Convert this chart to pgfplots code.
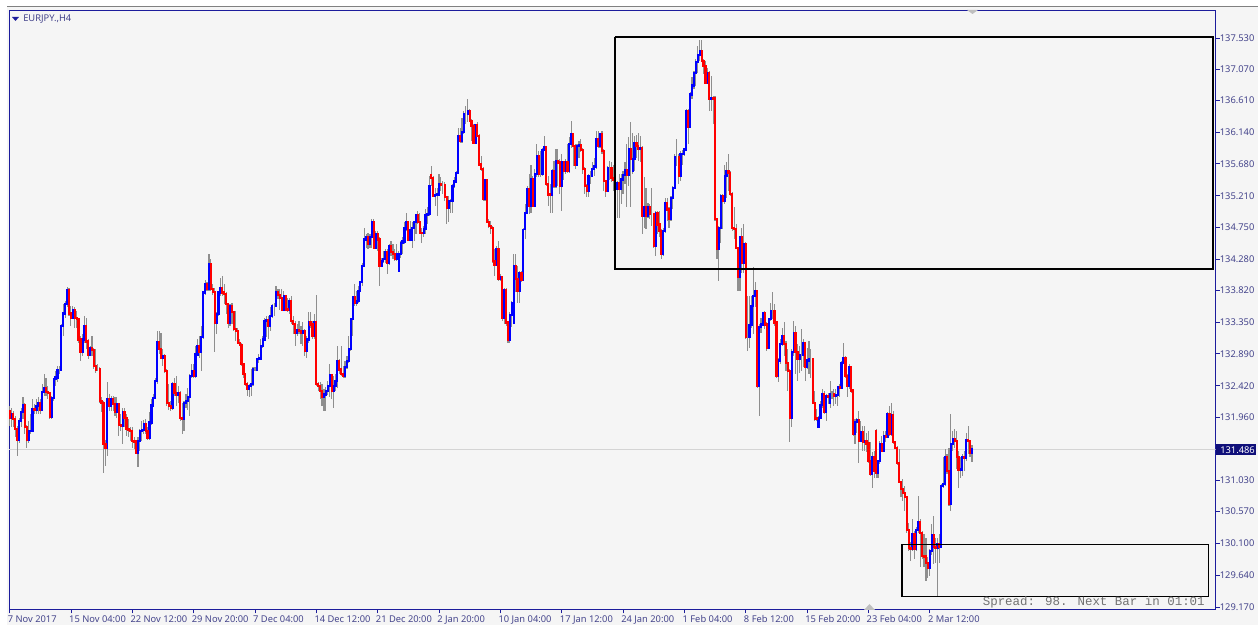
\documentclass[border=0pt]{standalone}
\usepackage{fontspec}
\setmainfont{Noto Sans}
\newfontfamily\monof{Liberation Mono}
\usepackage{pgfplots}
\usepackage{pgfplotstable}
\pgfplotsset{compat=1.18}
\definecolor{canvas}{HTML}{F5F5F5}
\definecolor{frame}{HTML}{1C1C9C}
\definecolor{lbl}{HTML}{45458C}
\definecolor{wick}{HTML}{8E8E8E}
\definecolor{pricebg}{HTML}{10107A}
\definecolor{upc}{HTML}{0000FF}
\definecolor{dnc}{HTML}{FF0000}

% EURJPY H4 bars, one row per bar
\pgfplotstableread{
o c l h
132.05 131.95 131.83 132.12
131.95 132.00 131.81 132.10
132.00 131.93 131.81 132.05
131.93 131.78 131.66 131.98
131.78 131.63 131.39 131.83
131.63 131.90 131.585 131.95
131.90 132.03 131.81 132.10
132.03 132.14 131.93 132.25
132.14 131.81 131.71 132.17
131.81 131.63 131.51 131.85
131.63 131.75 131.585 131.90
131.75 131.76 131.71 132.00
131.76 132.07 131.76 132.22
132.07 132.06 132.00 132.15
132.06 132.12 132.00 132.22
132.12 132.17 132.00 132.25
132.17 132.07 132.00 132.22
132.07 132.33 132.05 132.44
132.33 132.39 132.27 132.59
132.39 132.33 132.27 132.54
132.33 132.31 132.22 132.42
132.31 131.96 131.93 132.32
131.96 132.24 131.93 132.27
132.24 132.52 132.20 132.54
132.52 132.54 132.42 132.64
132.54 132.65 132.47 132.71
132.65 132.65 132.59 132.71
132.65 133.30 132.64 133.32
133.30 133.48 133.15 133.62
133.48 133.62 133.42 133.67
133.62 133.82 133.58 133.87
133.82 133.48 133.45 133.86
133.48 133.41 133.30 133.59
133.41 133.53 133.40 133.59
133.53 133.42 133.27 133.57
133.42 133.40 133.27 133.52
133.40 133.10 133.05 133.42
133.10 132.91 132.785 133.15
132.91 133.10 132.86 133.18
133.10 133.30 133.05 133.45
133.30 133.07 132.96 133.42
133.07 132.87 132.82 133.10
132.87 132.97 132.86 133.00
132.97 132.94 132.86 133.15
132.94 132.71 132.66 132.98
132.71 132.66 132.61 132.96
132.66 132.66 132.64 132.74
132.66 132.19 132.17 132.69
132.19 132.17 132.03 132.25
132.17 131.56 131.14 132.20
131.56 131.51 131.24 131.63
131.51 132.22 131.39 132.47
132.22 132.12 132.05 132.30
132.12 132.22 132.05 132.27
132.22 132.15 132.05 132.27
132.15 132.04 131.98 132.25
132.04 132.15 131.95 132.26
132.15 131.84 131.68 132.17
131.84 131.83 131.76 132.00
131.83 132.03 131.56 132.10
132.03 131.95 131.81 132.10
131.95 131.78 131.68 132.00
131.78 131.77 131.66 131.93
131.77 131.76 131.61 131.81
131.76 131.61 131.51 131.81
131.61 131.60 131.49 131.66
131.60 131.44 131.41 131.63
131.44 131.61 131.22 131.66
131.61 131.75 131.46 131.78
131.75 131.77 131.61 131.90
131.77 131.86 131.71 131.91
131.86 131.75 131.71 131.93
131.75 131.66 131.63 131.81
131.66 131.88 131.63 132.03
131.88 132.13 131.85 132.22
132.13 132.24 132.12 132.30
132.24 132.49 132.22 132.54
132.49 133.06 132.44 133.23
133.06 132.96 132.88 133.22
132.96 132.83 132.81 133.20
132.83 132.86 132.71 132.96
132.86 132.64 132.61 132.88
132.64 132.17 132.12 132.66
132.17 132.12 132.07 132.44
132.12 132.10 132.05 132.20
132.10 132.44 132.07 132.47
132.44 132.31 132.27 132.54
132.31 132.29 132.12 132.56
132.29 132.31 132.17 132.42
132.31 131.95 131.90 132.34
131.95 131.94 131.71 132.17
131.94 132.17 131.76 132.20
132.17 132.20 132.10 132.30
132.20 132.26 132.07 132.39
132.26 132.56 131.98 132.59
132.56 132.64 132.54 132.74
132.64 132.56 132.54 132.74
132.56 132.88 132.54 133.00
132.88 133.00 132.86 133.10
133.00 132.91 132.83 133.15
132.91 133.14 132.64 133.30
133.14 133.79 133.10 133.81
133.79 133.91 133.76 133.98
133.91 133.84 133.81 133.94
133.84 134.20 133.81 134.35
134.20 133.84 133.81 134.28
133.84 133.80 133.76 133.91
133.80 133.35 132.91 133.86
133.35 133.47 133.18 133.50
133.47 133.79 133.45 133.81
133.79 133.86 133.74 134.01
133.86 133.79 133.74 134.03
133.79 133.77 133.62 133.91
133.77 133.62 133.47 133.79
133.62 133.35 133.27 133.64
133.35 133.59 133.30 133.62
133.59 133.50 133.32 133.64
133.50 133.25 133.23 133.52
133.25 133.23 133.08 133.52
133.23 133.05 133.03 133.27
133.05 133.02 133.00 133.10
133.02 132.74 132.71 133.05
132.74 132.59 132.54 132.76
132.59 132.44 132.42 132.61
132.44 132.37 132.27 132.47
132.37 132.42 132.25 132.44
132.42 132.44 132.27 132.66
132.44 132.66 132.42 132.69
132.66 132.66 132.64 132.69
132.66 132.81 132.64 132.83
132.81 132.82 132.76 132.88
132.82 133.00 132.81 133.10
133.00 133.10 132.98 133.15
133.10 133.37 133.08 133.42
133.37 133.38 133.13 133.45
133.38 133.30 133.10 133.45
133.30 133.45 133.23 133.57
133.45 133.59 133.42 133.62
133.59 133.59 133.45 133.64
133.59 133.79 133.57 133.89
133.79 133.75 133.69 133.84
133.75 133.71 133.54 133.84
133.71 133.54 133.52 133.84
133.54 133.74 133.52 133.81
133.74 133.54 133.52 133.76
133.54 133.53 133.50 133.71
133.53 133.67 133.47 133.71
133.67 133.37 133.32 133.74
133.37 133.33 133.18 133.45
133.33 133.20 133.00 133.37
133.20 133.24 133.15 133.32
133.24 133.23 133.18 133.37
133.23 133.20 133.03 133.30
133.20 133.23 133.00 133.35
133.23 132.93 132.86 133.25
132.93 133.10 132.83 133.15
133.10 133.35 133.05 133.50
133.35 133.32 133.27 133.50
133.32 133.15 133.10 133.37
133.15 133.35 133.10 133.47
133.35 132.44 132.42 133.75
132.44 132.42 132.35 132.47
132.42 132.34 132.22 132.47
132.34 132.26 132.12 132.44
132.26 132.29 132.05 132.37
132.29 132.34 132.05 132.40
132.34 132.42 132.29 132.49
132.42 132.58 132.25 132.74
132.58 132.34 132.22 132.59
132.34 132.42 132.10 132.56
132.42 132.49 132.34 132.59
132.49 132.78 132.39 133.00
132.78 132.66 132.59 132.81
132.66 132.59 132.56 133.00
132.59 132.56 132.54 132.71
132.56 132.69 132.54 132.78
132.69 132.78 132.66 132.86
132.78 132.96 132.76 133.15
132.96 133.40 132.93 133.42
133.40 133.72 133.15 133.74
133.72 133.63 133.59 133.91
133.63 133.67 133.59 133.81
133.67 133.81 133.64 133.89
133.81 133.94 133.79 133.96
133.94 134.18 133.89 134.23
134.18 134.57 134.16 134.74
134.57 134.60 134.45 134.65
134.60 134.50 134.43 134.67
134.50 134.60 134.45 134.65
134.60 134.82 134.45 134.87
134.82 134.45 134.43 134.87
134.45 134.65 134.43 134.70
134.65 134.57 134.40 134.70
134.57 134.18 133.89 134.60
134.18 134.25 134.16 134.30
134.25 134.28 134.23 134.40
134.28 134.39 134.23 134.43
134.39 134.23 134.06 134.43
134.23 134.47 134.20 134.50
134.47 134.38 134.33 134.55
134.38 134.35 134.28 134.50
134.35 134.28 134.25 134.43
134.28 134.35 134.25 134.50
134.11 134.35 134.11 134.40
134.35 134.52 134.30 134.55
134.52 134.54 134.35 134.60
134.54 134.73 134.50 134.82
134.73 134.83 134.70 134.96
134.83 134.57 134.55 134.84
134.57 134.70 134.55 134.84
134.57 134.74 134.45 134.82
134.74 134.83 134.55 134.84
134.83 134.92 134.65 134.94
134.92 134.82 134.79 134.99
134.82 134.67 134.65 134.96
134.67 134.66 134.52 134.74
134.66 134.72 134.60 134.77
134.72 134.93 134.65 135.01
134.93 134.94 134.79 135.04
134.94 135.36 134.92 135.50
135.51 135.47 135.36 135.65
135.47 135.21 135.19 135.50
135.21 135.22 135.06 135.33
135.22 135.23 134.92 135.33
135.23 135.38 135.21 135.53
135.38 135.37 135.28 135.48
135.37 135.37 135.23 135.43
135.37 135.19 135.14 135.41
135.19 135.04 134.79 135.21
135.04 135.13 134.82 135.21
135.13 135.14 134.96 135.16
135.14 135.36 134.96 135.38
135.36 135.42 135.33 135.48
135.42 135.55 135.41 135.58
135.55 136.09 135.53 136.21
136.09 136.02 135.99 136.21
136.02 136.15 135.99 136.36
136.15 136.41 136.12 136.46
136.41 136.41 136.26 136.53
136.41 136.45 136.29 136.63
136.45 136.31 136.29 136.48
136.31 136.24 136.02 136.34
136.24 135.99 135.97 136.26
135.99 136.25 135.97 136.26
136.25 136.09 136.07 136.29
136.09 135.67 135.65 136.12
135.67 135.60 135.58 135.80
135.60 135.16 135.14 135.63
135.16 135.44 135.14 135.45
135.44 134.83 134.82 135.45
134.83 134.77 134.74 134.87
134.77 134.74 134.65 134.84
134.74 134.25 134.23 134.77
134.25 134.20 134.03 134.43
134.20 134.43 134.18 134.47
134.43 133.99 133.96 134.55
133.99 134.01 133.96 134.06
134.01 133.42 133.37 134.03
133.42 133.82 133.32 133.86
133.82 133.35 133.30 133.86
133.35 133.09 133.05 133.37
133.09 133.46 133.05 133.50
133.46 133.64 133.28 133.67
133.35 134.18 133.32 134.35
134.18 133.99 133.79 134.35
133.99 133.81 133.64 134.18
133.81 134.08 133.64 134.11
134.08 133.97 133.94 134.11
133.97 134.70 133.96 134.74
134.72 134.96 134.57 135.09
134.96 135.31 134.94 135.36
135.31 135.06 134.94 135.53
135.06 135.45 134.96 135.67
135.45 135.06 135.04 135.50
135.06 135.53 135.04 135.60
135.53 135.80 135.48 135.97
135.80 135.53 135.48 135.87
135.53 135.53 135.48 135.87
135.53 135.88 135.50 135.92
135.88 135.92 135.87 136.09
135.92 135.38 135.36 135.94
135.38 135.23 135.06 135.50
135.23 135.22 134.96 135.38
135.22 135.58 134.96 135.60
135.58 135.36 135.33 135.72
135.36 135.72 135.33 135.90
135.72 135.70 135.36 135.90
135.70 135.36 135.23 135.75
135.36 135.70 134.99 135.82
135.70 135.58 135.45 135.72
135.58 135.70 135.53 135.75
135.70 135.58 135.55 135.97
135.58 135.97 135.55 136.07
135.97 136.12 135.92 136.31
136.12 135.94 135.65 136.14
135.94 135.67 135.60 135.97
135.67 135.94 135.65 135.97
135.94 135.96 135.77 136.02
135.96 135.88 135.85 136.04
135.88 135.60 135.53 135.92
135.60 135.36 135.23 135.63
135.36 135.29 135.19 135.38
135.29 135.50 135.19 135.53
135.50 135.50 135.38 135.58
135.50 135.60 135.48 135.70
135.60 135.64 135.50 135.77
135.64 136.04 135.60 136.16
136.04 135.94 135.92 136.16
135.94 136.12 135.92 136.14
136.12 135.87 135.82 136.16
135.87 135.43 135.28 135.90
135.43 135.29 135.19 135.45
135.29 135.62 135.28 135.65
135.62 135.62 135.45 135.72
135.62 135.47 135.41 135.70
135.47 135.45 135.28 135.67
135.45 135.31 134.99 135.48
135.31 135.40 134.89 135.43
135.40 135.31 134.89 135.53
135.31 135.45 135.09 135.53
135.45 135.52 135.23 135.58
135.52 135.59 135.38 135.70
135.59 135.52 135.04 135.97
135.52 135.89 135.36 136.07
135.89 135.75 135.04 136.29
135.58 135.75 135.53 136.14
135.75 135.98 135.58 136.09
135.98 135.94 135.77 136.11
135.94 135.90 135.72 136.14
135.90 135.91 135.70 136.09
135.91 134.92 134.65 135.94
134.92 135.04 134.74 135.48
135.04 134.92 134.72 135.33
134.92 135.05 134.89 135.11
135.05 134.94 134.87 135.09
134.94 134.94 134.77 135.33
134.94 134.47 134.45 134.96
134.47 134.95 134.33 134.99
134.95 134.79 134.65 134.99
134.79 134.69 134.60 134.99
134.69 134.36 134.28 134.72
134.36 134.69 134.33 134.74
134.69 135.11 134.67 135.18
135.11 135.01 134.84 135.18
135.01 134.87 134.74 135.04
134.87 135.18 134.84 135.21
135.18 135.33 135.01 135.36
135.33 135.78 135.31 135.82
135.78 135.78 135.65 136.04
135.78 135.50 135.38 135.82
135.50 135.82 135.43 135.87
135.82 135.83 135.67 135.89
135.83 135.89 135.80 135.92
135.89 136.46 135.87 136.48
136.46 136.22 135.97 136.48
136.22 136.70 136.21 136.73
136.70 136.83 136.63 136.95
136.83 137.01 136.78 137.05
137.01 137.18 136.83 137.22
137.18 137.28 137.02 137.41
137.28 137.34 137.19 137.50
137.34 137.19 137.17 137.50
137.19 137.12 137.00 137.22
137.12 136.87 136.85 137.19
136.87 137.02 136.85 137.09
137.02 136.63 136.46 137.05
136.63 136.65 136.46 136.97
136.65 136.64 136.26 136.68
136.64 134.87 134.84 136.68
134.87 134.43 134.28 134.89
134.43 134.74 133.96 134.77
134.74 135.21 134.52 135.23
135.21 135.13 134.72 135.23
135.13 135.50 135.09 135.67
135.50 135.57 135.18 135.70
135.57 135.55 135.28 135.82
135.55 135.24 135.21 135.58
135.24 134.74 134.69 135.26
134.74 134.72 134.57 135.04
134.72 134.44 134.43 134.79
134.44 134.02 133.81 134.46
134.02 134.60 133.81 134.62
134.60 134.23 134.08 134.74
134.23 134.50 134.08 134.79
134.50 133.14 133.10 134.53
133.14 133.14 132.93 133.74
133.14 133.31 132.98 133.74
133.31 133.59 133.27 133.74
133.59 133.74 133.18 134.16
133.74 133.81 133.57 133.94
133.81 132.42 132.39 133.82
132.42 133.28 131.98 133.32
133.28 133.32 133.20 133.42
133.32 133.48 133.30 133.49
133.48 133.32 133.25 133.52
133.32 132.97 132.93 133.35
132.97 133.40 132.96 133.42
133.40 133.52 133.37 133.64
133.52 133.52 133.40 133.79
133.52 133.35 133.30 133.62
133.35 132.56 132.54 133.37
132.56 132.79 132.47 132.83
132.79 133.03 132.74 133.10
133.03 133.15 133.01 133.27
133.15 133.03 132.86 133.35
133.03 132.76 132.64 133.08
132.76 132.64 132.34 132.96
132.64 131.95 131.59 132.66
131.95 132.92 131.81 132.96
132.92 133.20 132.86 133.37
133.20 132.91 132.59 133.30
132.91 132.81 132.49 133.03
132.81 132.87 132.61 133.01
132.87 132.87 132.64 133.25
132.87 133.04 132.69 133.10
133.04 132.70 132.49 133.05
132.70 132.79 132.66 132.98
132.79 132.81 132.59 133.08
132.81 132.81 132.54 132.96
132.81 132.17 132.15 132.83
132.17 131.94 131.90 132.34
131.94 131.93 131.90 132.08
131.82 131.95 131.80 131.98
131.95 132.14 131.93 132.20
132.14 132.30 132.10 132.37
132.30 132.03 132.00 132.34
132.03 132.27 131.90 132.30
132.27 132.25 132.15 132.32
132.17 132.30 132.10 132.49
132.30 132.30 132.22 132.34
132.30 132.27 132.12 132.37
132.27 132.28 132.15 132.37
132.28 132.40 132.12 132.42
132.40 132.39 132.25 132.44
132.39 132.76 132.37 132.79
132.76 132.83 132.74 133.05
132.83 132.56 132.54 132.86
132.56 132.42 132.25 132.59
132.42 132.69 132.37 132.74
132.69 132.35 132.32 132.71
132.35 131.71 131.68 132.37
131.71 131.89 131.56 131.93
131.89 131.91 131.73 131.95
131.91 131.61 131.28 132.05
131.61 131.74 131.59 131.90
131.74 131.60 131.46 131.83
131.60 131.61 131.46 131.83
131.61 131.57 131.44 131.73
131.57 131.32 131.29 131.76
131.32 131.12 131.10 131.59
131.12 131.37 130.92 131.44
131.37 131.17 131.07 131.46
131.76 131.14 131.07 131.78
131.14 131.31 131.07 131.32
131.31 131.56 131.27 131.61
131.56 131.47 131.46 131.68
131.47 131.68 131.46 131.76
131.68 131.67 131.59 131.76
131.67 132.00 131.66 132.03
132.00 131.71 131.68 132.12
131.71 131.99 131.68 132.17
131.99 131.59 131.56 132.05
131.59 131.51 131.49 131.61
131.51 131.28 131.26 131.54
131.28 131.01 131.00 131.49
131.01 130.90 130.78 131.02
130.90 130.85 130.73 131.05
130.85 130.79 130.58 130.95
130.79 130.30 130.26 130.80
130.30 130.04 129.99 130.41
130.04 130.02 129.85 130.12
130.02 130.24 129.99 130.46
130.24 130.02 129.87 130.29
130.02 130.30 129.99 130.34
130.30 130.42 130.26 130.80
130.42 130.26 129.75 130.46
130.26 129.92 129.87 130.29
129.92 129.91 129.75 130.24
129.91 129.82 129.55 130.19
129.82 129.75 129.60 129.90
129.75 129.99 129.63 130.02
129.99 130.22 129.94 130.39
130.22 130.05 129.80 130.51
130.05 130.04 129.82 130.19
130.04 130.09 129.33 130.19
130.09 130.05 129.82 130.24
130.05 130.95 130.03 130.97
130.95 130.98 130.92 131.37
130.98 131.37 130.95 131.49
131.37 131.17 131.12 131.41
131.17 130.68 130.65 131.51
130.68 131.56 130.58 132.01
131.56 131.63 131.46 131.76
131.63 131.61 131.51 131.78
131.61 131.37 131.19 131.76
131.37 131.18 130.92 131.46
131.18 131.19 131.07 131.37
131.19 131.37 131.10 131.41
131.37 131.36 131.17 131.46
131.36 131.62 131.32 131.73
131.62 131.61 131.41 131.83
131.61 131.44 131.37 131.63
131.44 131.486 131.30 131.55
}\bars

\begin{document}
\begin{tikzpicture}
\path[use as bounding box] (0,0) rectangle (943.5pt,468.75pt);
\fill[canvas] (5.25pt,0) rectangle (943.5pt,463.5pt);
\begin{axis}[
    at={(6.8pt,11.65pt)}, anchor=south west,
    scale only axis,
    width=904.9pt, height=448.9pt,
    xmin=-0.26, xmax=629.1,
    ymin=129.133, ymax=137.927,
    axis background/.style={fill=canvas},
    axis line style={frame, line width=0.75pt},
    tick style={frame, line width=0.6pt},
    tick align=outside,
    major tick length=3pt,
    xtick pos=lower, ytick pos=upper, yticklabel pos=upper,
    xtick={0,32,...,480},
    xticklabels={7 Nov 2017,15 Nov 04:00,22 Nov 12:00,29 Nov 20:00,7 Dec 04:00,14 Dec 12:00,21 Dec 20:00,2 Jan 20:00,10 Jan 04:00,17 Jan 12:00,24 Jan 20:00,1 Feb 04:00,8 Feb 12:00,15 Feb 20:00,23 Feb 04:00,2 Mar 12:00},
    xticklabel style={anchor=north west, font=\fontsize{7}{8}\selectfont, text=lbl, xshift=-2.5pt, yshift=-0.5pt, inner sep=1pt},
    ytick={137.53,137.07,136.61,136.14,135.68,135.21,134.75,134.28,133.82,133.35,132.89,132.42,131.96,131.03,130.57,130.10,129.64,129.17},
    yticklabels={137.530,137.070,136.610,136.140,135.680,135.210,134.750,134.280,133.820,133.350,132.890,132.420,131.960,131.030,130.570,130.100,129.640,129.170},
    yticklabel style={anchor=west, font=\fontsize{7}{8}\selectfont, text=lbl, xshift=-1pt, inner sep=1pt},
]
% current price line
\addplot[forget plot, color=black!17, line width=0.75pt] coordinates {(-1,131.486) (630,131.486)};
% wicks
\addplot[forget plot, draw=none, error bars/.cd, y dir=both, y explicit, error mark=none,
    error bar style={draw=wick, solid, line width=0.85pt}]
    table[x expr=\coordindex, y=c, y error plus expr=\thisrow{h}-\thisrow{c}, y error minus expr=\thisrow{c}-\thisrow{l}] {\bars};
% bodies, rising
\addplot[forget plot, draw=none, unbounded coords=discard, error bars/.cd, y dir=minus, y explicit, error mark=none,
    error bar style={draw=upc, solid, line width=1.65pt, line cap=rect}]
    table[x expr=\coordindex, y expr={\thisrow{c}>=\thisrow{o} ? \thisrow{c} : nan}, y error minus expr=\thisrow{c}-\thisrow{o}] {\bars};
% bodies, falling
\addplot[forget plot, draw=none, unbounded coords=discard, error bars/.cd, y dir=plus, y explicit, error mark=none,
    error bar style={draw=dnc, solid, line width=1.65pt, line cap=rect}]
    table[x expr=\coordindex, y expr={\thisrow{c}<\thisrow{o} ? \thisrow{c} : nan}, y error plus expr=\thisrow{o}-\thisrow{c}] {\bars};
% marked zones
\addplot[forget plot, black, line width=1.5pt, line join=miter] coordinates {(315.8,137.537) (627.5,137.537) (627.5,134.131) (315.8,134.131) (315.8,137.537)};
\addplot[forget plot, black, line width=0.8pt, line join=miter] coordinates {(465.5,130.091) (625.3,130.091) (625.3,129.321) (465.5,129.321) (465.5,130.091)};
\end{axis}
% decorations in image pixels, origin top left
\begin{scope}[x=0.75pt, y=-0.75pt, shift={(0pt,468.75pt)}]
\draw[black!50, line width=0.75pt] (7,7) -- (1258,7);
\fill[frame] (12,17) -- (19,17) -- (15.5,21) -- cycle;
\node[anchor=west, inner sep=0pt, text=lbl, font=\fontsize{7}{8}\selectfont] at (23,19) {EURJPY.,H4};
\fill[black!25] (864,610) -- (875,610) -- (869.5,604) -- cycle;
\fill[black!25] (967,10) -- (978,10) -- (972.5,14) -- cycle;
\fill[pricebg] (1215.5,444.5) rectangle (1256,455.5);
\node[anchor=west, inner sep=0pt, text=white, font=\fontsize{7}{8}\selectfont] at (1220,450.5) {131.486};
\node[anchor=east, inner sep=0pt, text=black!55, font=\monof\fontsize{9.35}{10}\selectfont] at (1205,602) {Spread: 98. Next Bar in 01:01};
\end{scope}
\end{tikzpicture}
\end{document}
